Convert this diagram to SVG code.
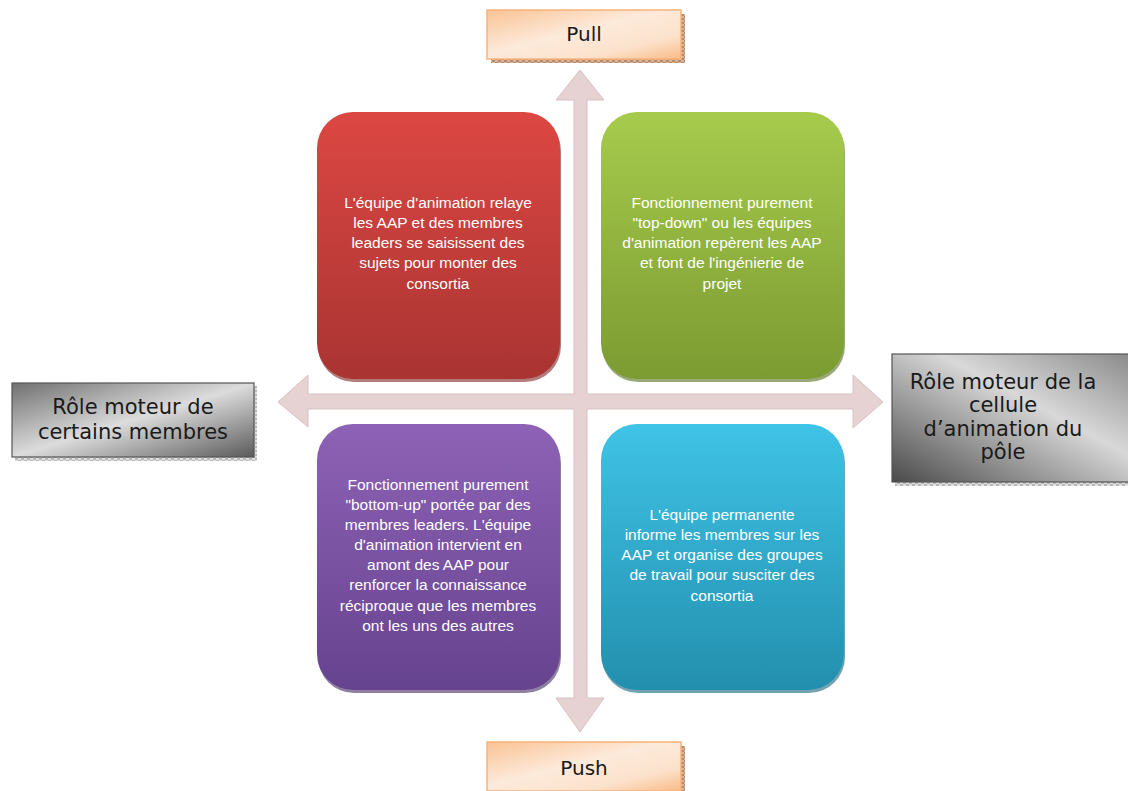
<svg xmlns="http://www.w3.org/2000/svg" width="1128" height="791" viewBox="0 0 1128 791">
<defs>
<style>
.qt{font-family:"Liberation Sans","DejaVu Sans",sans-serif;font-size:15.5px;fill:#ffffff;text-anchor:middle}
.lt{font-family:"DejaVu Sans","Liberation Sans",sans-serif;fill:#1a1a1a;text-anchor:middle}
.arrow{fill:#e7d2d3;stroke:#d8c0c1;stroke-width:1}
.gbox{fill:url(#gray);stroke:#555;stroke-width:1.2}
.obox{fill:url(#orange);stroke:#f7b27a;stroke-width:1.5}
</style>
<linearGradient id="orange" x1="0" y1="0" x2="1" y2="1">
<stop offset="0" stop-color="#f9c394"/>
<stop offset="0.45" stop-color="#fdeadb"/>
<stop offset="0.75" stop-color="#fce2cc"/>
<stop offset="1" stop-color="#f8bb87"/>
</linearGradient>
<linearGradient id="gray" x1="0" y1="0" x2="1" y2="1">
<stop offset="0" stop-color="#707070"/>
<stop offset="0.5" stop-color="#dcdcdc"/>
<stop offset="1" stop-color="#5a5a5a"/>
</linearGradient>
<linearGradient id="gray2" x1="0" y1="1" x2="1" y2="0">
<stop offset="0" stop-color="#4a4a4a"/>
<stop offset="0.6" stop-color="#d8d8d8"/>
<stop offset="1" stop-color="#8a8a8a"/>
</linearGradient>
<pattern id="chkO" width="6" height="4" patternUnits="userSpaceOnUse">
<rect width="6" height="4" fill="#d9b49a"/>
<rect width="3" height="2" fill="#b58a6a"/>
<rect x="3" y="2" width="3" height="2" fill="#b58a6a"/>
</pattern>
<pattern id="chkG" width="6" height="4" patternUnits="userSpaceOnUse">
<rect width="6" height="4" fill="#e0e0e0"/>
<rect width="3" height="2" fill="#b8b8b8"/>
<rect x="3" y="2" width="3" height="2" fill="#b8b8b8"/>
</pattern>
<linearGradient id="red" x1="0" y1="0" x2="0" y2="1">
<stop offset="0" stop-color="#dc4743"/>
<stop offset="1" stop-color="#a93432"/>
</linearGradient>
<linearGradient id="green" x1="0" y1="0" x2="0" y2="1">
<stop offset="0" stop-color="#a6cb4c"/>
<stop offset="1" stop-color="#7c9b32"/>
</linearGradient>
<linearGradient id="purple" x1="0" y1="0" x2="0" y2="1">
<stop offset="0" stop-color="#8e62b6"/>
<stop offset="1" stop-color="#66438e"/>
</linearGradient>
<linearGradient id="blue" x1="0" y1="0" x2="0" y2="1">
<stop offset="0" stop-color="#3fc3e6"/>
<stop offset="1" stop-color="#238fae"/>
</linearGradient>
</defs>
<rect width="1128" height="791" fill="#ffffff"/>

<g id="connectors">
<polygon class="arrow" points="580,70 604,100 587,100 587,394 853,394 853,375 883,402 853,428 853,409 587,409 587,698 604,698 580,732 556,698 574,698 574,409 308,409 308,427 278,402 308,375 308,394 574,394 574,100 556,100"/>
</g>

<g id="q-red">
<rect x="318" y="115" width="243" height="267" rx="36" fill="#7e2422" opacity="0.6"/>
<rect x="317" y="112" width="243" height="267" rx="36" fill="url(#red)"/>
<text class="qt"><tspan x="438" y="208">L'équipe d'animation relaye</tspan><tspan x="438" y="228">les AAP et des membres</tspan><tspan x="438" y="248">leaders se saisissent des</tspan><tspan x="438" y="268">sujets pour monter des</tspan><tspan x="438" y="289">consortia</tspan></text>
</g>

<g id="q-green">
<rect x="602" y="115" width="243" height="267" rx="36" fill="#55701e" opacity="0.6"/>
<rect x="601" y="112" width="243" height="267" rx="36" fill="url(#green)"/>
<text class="qt"><tspan x="722" y="208">Fonctionnement purement</tspan><tspan x="722" y="228">"top-down" ou les équipes</tspan><tspan x="722" y="248">d'animation repèrent les AAP</tspan><tspan x="722" y="268">et font de l'ingénierie de</tspan><tspan x="722" y="289">projet</tspan></text>
</g>

<g id="q-purple">
<rect x="318" y="427" width="243" height="266" rx="36" fill="#442b63" opacity="0.6"/>
<rect x="317" y="424" width="243" height="266" rx="36" fill="url(#purple)"/>
<text class="qt"><tspan x="438" y="490">Fonctionnement purement</tspan><tspan x="438" y="510">"bottom-up" portée par des</tspan><tspan x="438" y="530">membres leaders. L'équipe</tspan><tspan x="438" y="550">d'animation intervient en</tspan><tspan x="438" y="570">amont des AAP pour</tspan><tspan x="438" y="590">renforcer la connaissance</tspan><tspan x="438" y="611">réciproque que les membres</tspan><tspan x="438" y="631">ont les uns des autres</tspan></text>
</g>

<g id="q-blue">
<rect x="602" y="427" width="243" height="266" rx="36" fill="#16657c" opacity="0.6"/>
<rect x="601" y="424" width="243" height="266" rx="36" fill="url(#blue)"/>
<text class="qt"><tspan x="722" y="520">L'équipe permanente</tspan><tspan x="722" y="540">informe les membres sur les</tspan><tspan x="722" y="560">AAP et organise des groupes</tspan><tspan x="722" y="580">de travail pour susciter des</tspan><tspan x="722" y="601">consortia</tspan></text>
</g>

<g id="pull">
<rect x="491" y="14" width="194" height="49" fill="url(#chkO)"/>
<rect x="487" y="10" width="194" height="49" class="obox"/>
<text class="lt" x="584" y="41" font-size="20">Pull</text>
</g>

<g id="push">
<rect x="491" y="746" width="194" height="49" fill="url(#chkO)"/>
<rect x="487" y="742" width="194" height="49" class="obox"/>
<text class="lt" x="584" y="775" font-size="20">Push</text>
</g>

<g id="left-role">
<rect x="15" y="386" width="242" height="75" fill="url(#chkG)"/>
<rect x="12" y="383" width="242" height="74" class="gbox"/>
<text class="lt" font-size="21"><tspan x="133" y="414">Rôle moteur de</tspan><tspan x="133" y="439">certains membres</tspan></text>
</g>

<g id="right-role">
<rect x="895" y="357" width="240" height="129" fill="url(#chkG)"/>
<rect x="892" y="354" width="240" height="128" fill="url(#gray2)" stroke="#555" stroke-width="1.2"/>
<text class="lt" font-size="21"><tspan x="1003" y="389">Rôle moteur de la</tspan><tspan x="1003" y="412">cellule</tspan><tspan x="1003" y="436">d’animation du</tspan><tspan x="1003" y="459">pôle</tspan></text>
</g>
</svg>
